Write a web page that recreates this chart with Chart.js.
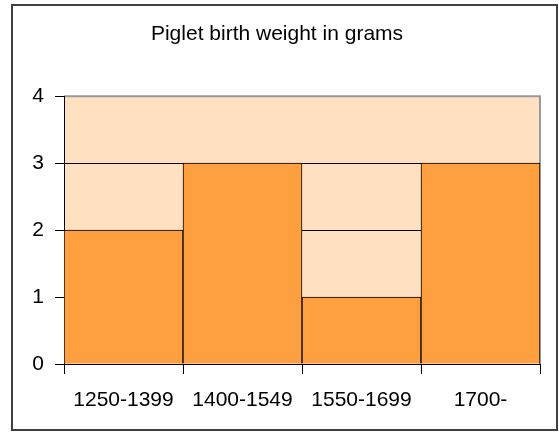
<!DOCTYPE html>
<html>
<head>
<meta charset="utf-8">
<script src="https://cdn.jsdelivr.net/npm/chart.js@4"></script>
<style>
  body { margin: 0; background: #fff; }
  canvas { display: block; }
</style>
</head>
<body>
<canvas id="myChart" width="559" height="434"></canvas>
<script>
const categories = ["1250-1399", "1400-1549", "1550-1699", "1700-"];
const counts = [2, 3, 1, 3];
const yTicks = [0, 1, 2, 3, 4];

const barColor = "#FFA040";
const plotColor = "#FFE0C0";
const fontFamily = "'Liberation Sans', Arial";

// peach plot area + outer frame, like the old Excel chart
const framePlugin = {
  id: "frame",
  beforeDraw(chart) {
    const { ctx, chartArea: a } = chart;
    ctx.save();
    ctx.fillStyle = plotColor;
    ctx.fillRect(a.left, a.top, a.right - a.left, a.bottom - a.top);
    ctx.strokeStyle = "#9a9a9a";
    ctx.lineWidth = 2;
    ctx.beginPath();
    ctx.moveTo(a.left, a.top);
    ctx.lineTo(a.right, a.top);
    ctx.lineTo(a.right, a.bottom);
    ctx.stroke();
    ctx.restore();
  },
  afterDraw(chart) {
    const ctx = chart.ctx;
    ctx.save();
    ctx.strokeStyle = "#404040";
    ctx.lineWidth = 2;
    ctx.strokeRect(12, 5, 545, 425);
    ctx.restore();
  }
};

const data = {
  labels: categories,
  datasets: [
    {
      label: "Piglets",
      data: counts,
      backgroundColor: barColor,
      borderColor: "#000",
      borderWidth: 1,
      barPercentage: 1,
      categoryPercentage: 1,
    },
  ],
};

const options = {
  responsive: false,
  animation: false,
  layout: { padding: { left: 14, right: 19, top: 0, bottom: 10 } },
  plugins: {
    legend: { display: false },
    tooltip: { enabled: false },
    title: {
      display: true,
      text: "Piglet birth weight in grams",
      color: "#000",
      font: { family: fontFamily, size: 21, weight: "normal" },
      padding: { top: 22, bottom: 49 },
    },
  },
  scales: {
    x: {
      grid: { drawOnChartArea: false, tickLength: 10, tickColor: "#000", offset: true },
      border: { color: "#000", width: 1 },
      ticks: {
        color: "#000",
        padding: 14,
        maxRotation: 0,
        font: { family: fontFamily, size: 21 },
      },
      afterFit(scale) { scale.height = 60; },
    },
    y: {
      min: 0,
      max: 4,
      grid: {
        color: (c) => (c.tick && c.tick.value === 4 ? "#9a9a9a" : "#000"),
        tickColor: "#000",
        tickLength: 9,
      },
      border: { color: "#000", width: 1 },
      ticks: {
        stepSize: 1,
        color: "#000",
        padding: 11,
        font: { family: fontFamily, size: 21 },
        callback: (v) => (yTicks.includes(v) ? v : ""),
      },
      afterFit(scale) { scale.width = 50; },
    },
  },
};

const config = {
  type: "bar",
  data: data,
  options: options,
  plugins: [framePlugin],
};

const myChart = new Chart(document.getElementById("myChart"), config);
</script>
</body>
</html>
